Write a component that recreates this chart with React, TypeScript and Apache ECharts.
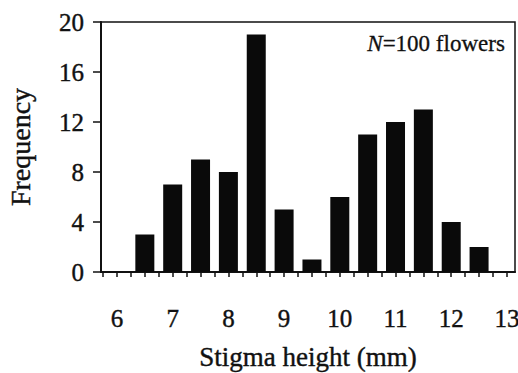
import React, { useEffect, useRef } from "react";
import * as echarts from "echarts";

const binCenters = [6.5, 7, 7.5, 8, 8.5, 9, 9.5, 10, 10.5, 11, 11.5, 12, 12.5];
const frequencies = [3, 7, 9, 8, 19, 5, 1, 6, 11, 12, 13, 4, 2];
const xTickLabels = [6, 7, 8, 9, 10, 11, 12, 13];
const yTickLabels = [0, 4, 8, 12, 16, 20];

const FONT = "'Liberation Serif', 'Times New Roman', serif";
const heavy = { textBorderColor: "#111", textBorderWidth: 0.4 };

export default function App() {
  const ref = useRef<HTMLDivElement>(null);
  useEffect(() => {
    document.body.style.margin = "0";
    if (!ref.current) return;
    const chart = echarts.init(ref.current, undefined, { renderer: "svg" });
    const minorTicks: number[] = [];
    for (let v = 5.75; v <= 13.1; v += 0.25) minorTicks.push(Math.round(v * 100) / 100);
    chart.setOption({
      animation: false,
      backgroundColor: "#fff",
      grid: {
        left: 101,
        right: 3,
        top: 22,
        bottom: 101,
        containLabel: false,
        outerBoundsMode: "none",
        show: true,
        borderColor: "#111",
        borderWidth: 1.5,
      },
      xAxis: {
        type: "value",
        min: 5.713,
        max: 13.145,
        axisLine: { show: true, lineStyle: { color: "#111", width: 2 } },
        axisTick: {
          show: true,
          customValues: minorTicks,
          length: 5,
          lineStyle: { color: "#111", width: 1.5 },
        },
        axisLabel: {
          customValues: xTickLabels,
          margin: 34,
          fontSize: 25,
          fontFamily: FONT,
          color: "#111",
          ...heavy,
        },
        splitLine: { show: false },
        name: "Stigma height (mm)",
        nameLocation: "middle",
        nameGap: 71,
        nameTextStyle: { fontSize: 27, fontFamily: FONT, color: "#111", ...heavy },
      },
      yAxis: {
        type: "value",
        min: 0,
        max: 20,
        interval: 4,
        axisLine: { show: true, lineStyle: { color: "#111", width: 2 } },
        axisTick: {
          show: true,
          customValues: yTickLabels,
          length: 8,
          lineStyle: { color: "#111", width: 1.5 },
        },
        axisLabel: {
          customValues: yTickLabels,
          margin: 17,
          fontSize: 25,
          fontFamily: FONT,
          color: "#111",
          ...heavy,
        },
        splitLine: { show: false },
        name: "Frequency",
        nameLocation: "middle",
        nameGap: 67,
        nameTextStyle: { fontSize: 28, fontFamily: FONT, color: "#111", ...heavy },
      },
      graphic: [
        {
          type: "text",
          right: 13,
          top: 32,
          style: {
            text: "{i|N}=100 flowers",
            font: `23px ${FONT}`,
            fill: "#111",
            stroke: "#111",
            lineWidth: 0.3,
            rich: {
              i: { fontStyle: "italic", fontSize: 23, fontFamily: FONT, fill: "#111" },
            },
          },
        },
      ],
      series: [
        {
          type: "bar",
          barWidth: 19,
          itemStyle: { color: "#0a0a0a" },
          data: binCenters.map((c, i) => [c, frequencies[i]]),
        },
      ],
    });
    return () => chart.dispose();
  }, []);
  return <div ref={ref} style={{ width: 518, height: 373 }} />;
}
